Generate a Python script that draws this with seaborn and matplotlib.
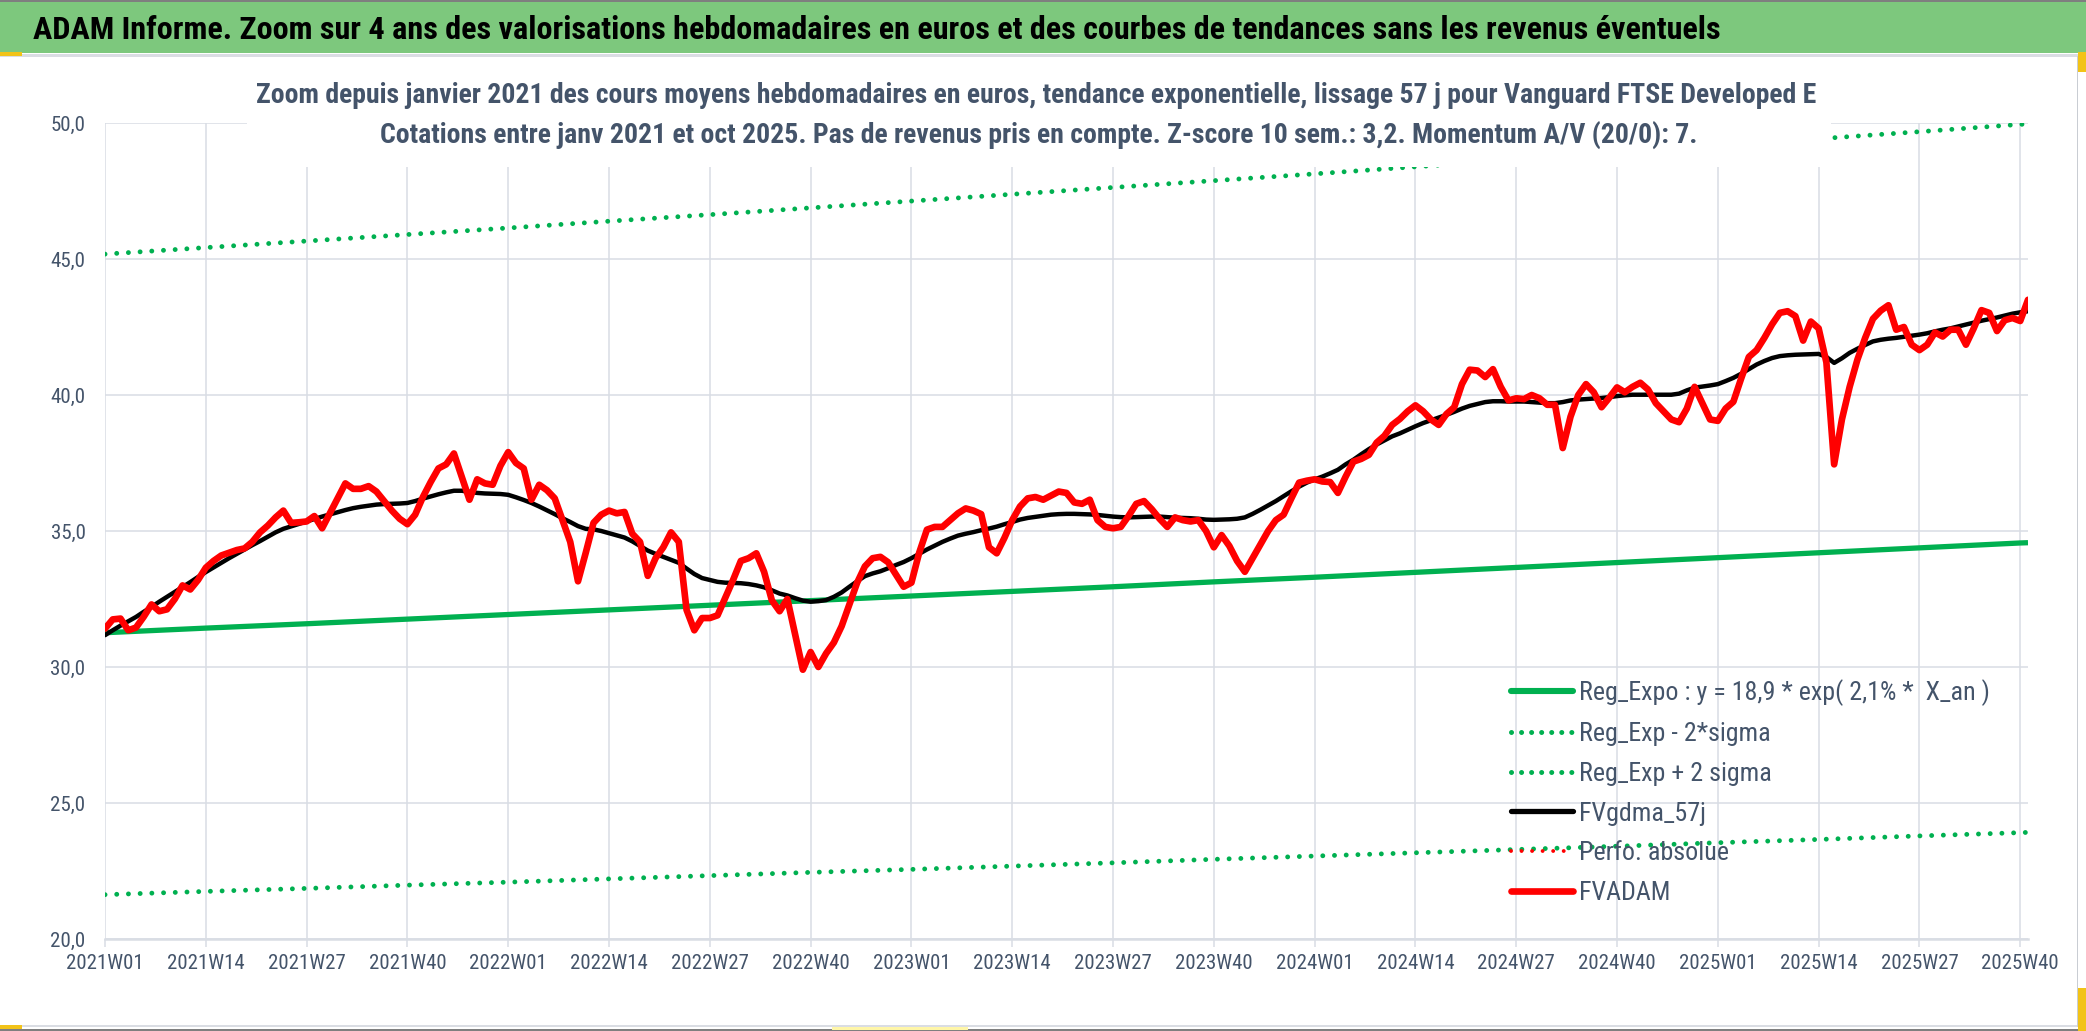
import numpy as np
import pandas as pd
import matplotlib
matplotlib.use("Agg")
import matplotlib.pyplot as plt
import seaborn as sns
from matplotlib import font_manager as fm
from matplotlib.font_manager import FontProperties
from matplotlib.textpath import TextPath
from matplotlib.lines import Line2D
from matplotlib.patches import Rectangle

# ---------------------------------------------------------------- data
title = ("ADAM Informe. Zoom sur 4 ans des valorisations hebdomadaires en euros "
         "et des courbes de tendances sans les revenus éventuels")
subtitle1 = ("Zoom depuis janvier 2021 des cours moyens hebdomadaires en euros, tendance "
             "exponentielle, lissage 57 j pour Vanguard FTSE Developed E")
subtitle2 = ("Cotations entre janv 2021 et oct 2025. Pas de revenus pris en compte. "
             "Z-score 10 sem.: 3,2. Momentum A/V (20/0): 7.")

series_labels = ["Reg_Expo : y = 18,9 * exp( 2,1% *  X_an )", "Reg_Exp - 2*sigma",
                 "Reg_Exp + 2 sigma", "FVgdma_57j", "Perfo. absolue", "FVADAM"]

tick_labels = ["2021W01", "2021W14", "2021W27", "2021W40", "2022W01", "2022W14",
               "2022W27", "2022W40", "2023W01", "2023W14", "2023W27", "2023W40",
               "2024W01", "2024W14", "2024W27", "2024W40", "2025W01", "2025W14",
               "2025W27", "2025W40"]
tick_weeks = [0, 13, 26, 39, 52, 65, 78, 91, 104, 117, 130, 143, 156, 169, 182,
              195, 208, 221, 234, 247]
y_ticks = [20, 25, 30, 35, 40, 45, 50]
y_tick_labels = ["20,0", "25,0", "30,0", "35,0", "40,0", "45,0", "50,0"]

# exponential trend and its bands, read at each labelled week + last week
trend_weeks = tick_weeks + [248]
reg_expo = [31.26, 31.43, 31.59, 31.76, 31.93, 32.10, 32.27, 32.44, 32.61, 32.78,
            32.95, 33.13, 33.30, 33.48, 33.66, 33.84, 34.02, 34.20, 34.38, 34.56, 34.57]
reg_minus = [21.63, 21.75, 21.86, 21.98, 22.09, 22.21, 22.33, 22.45, 22.56, 22.68,
             22.80, 22.93, 23.05, 23.17, 23.29, 23.41, 23.54, 23.66, 23.79, 23.91, 23.92]
reg_plus = [45.18, 45.42, 45.66, 45.90, 46.14, 46.39, 46.63, 46.88, 47.13, 47.38,
            47.63, 47.88, 48.13, 48.39, 48.65, 48.90, 49.16, 49.42, 49.68, 49.95, 49.96]

# weekly smoothed curve (FVgdma_57j)
fvgdma_2021 = [31.17, 31.35, 31.52, 31.68, 31.84, 32.03, 32.21, 32.40, 32.58, 32.76,
               32.94, 33.12, 33.31, 33.49, 33.66, 33.83, 34.00, 34.16, 34.32, 34.48,
               34.63, 34.79, 34.95, 35.08, 35.17, 35.26, 35.35, 35.44, 35.53, 35.61,
               35.69, 35.77, 35.84, 35.89, 35.93, 35.97, 35.99, 36.00, 36.01, 36.03,
               36.10, 36.19, 36.27, 36.35, 36.42, 36.48, 36.48, 36.44, 36.40, 36.38,
               36.37, 36.36]
fvgdma_2022 = [36.33, 36.24, 36.14, 36.03, 35.90, 35.76, 35.62, 35.47, 35.33, 35.18,
               35.08, 35.06, 35.00, 34.92, 34.84, 34.76, 34.62, 34.45, 34.28, 34.16,
               34.05, 33.94, 33.83, 33.62, 33.42, 33.27, 33.20, 33.13, 33.10, 33.09,
               33.08, 33.05, 33.00, 32.93, 32.82, 32.70, 32.63, 32.53, 32.44, 32.40,
               32.42, 32.46, 32.58, 32.74, 32.95, 33.15, 33.34, 33.44, 33.52, 33.63,
               33.75, 33.86]
fvgdma_2023 = [34.00, 34.16, 34.32, 34.46, 34.60, 34.72, 34.83, 34.90, 34.96, 35.03,
               35.09, 35.16, 35.25, 35.33, 35.42, 35.48, 35.52, 35.56, 35.60, 35.62,
               35.63, 35.63, 35.62, 35.61, 35.59, 35.56, 35.53, 35.51, 35.50, 35.51,
               35.52, 35.53, 35.53, 35.51, 35.49, 35.48, 35.47, 35.45, 35.42, 35.41,
               35.42, 35.43, 35.45, 35.50, 35.63, 35.78, 35.94, 36.10, 36.28, 36.46,
               36.63, 36.78]
fvgdma_2024 = [36.90, 37.00, 37.12, 37.25, 37.45, 37.62, 37.82, 38.01, 38.18, 38.33,
               38.48, 38.59, 38.72, 38.85, 38.97, 39.07, 39.17, 39.27, 39.38, 39.50,
               39.60, 39.67, 39.74, 39.77, 39.77, 39.76, 39.76, 39.76, 39.74, 39.72,
               39.70, 39.70, 39.74, 39.80, 39.83, 39.85, 39.87, 39.89, 39.92, 39.96,
               39.99, 40.01, 40.01, 40.01, 40.01, 40.01, 40.01, 40.05, 40.17, 40.27,
               40.31, 40.35]
fvgdma_2025 = [40.40, 40.51, 40.63, 40.78, 40.95, 41.12, 41.25, 41.36, 41.43, 41.46,
               41.48, 41.49, 41.50, 41.51, 41.40, 41.18, 41.35, 41.55, 41.70, 41.84,
               41.97, 42.03, 42.07, 42.10, 42.14, 42.18, 42.22, 42.27, 42.34, 42.40,
               42.45, 42.52, 42.59, 42.66, 42.73, 42.79, 42.85, 42.92, 42.99, 43.04,
               43.08]

# weekly average price (FVADAM)
fvadam_2021 = [31.41, 31.75, 31.78, 31.35, 31.45, 31.85, 32.30, 32.05, 32.12, 32.50,
               33.00, 32.85, 33.20, 33.65, 33.90, 34.10, 34.20, 34.30, 34.36, 34.60,
               34.95, 35.20, 35.50, 35.75, 35.30, 35.32, 35.35, 35.55, 35.10, 35.65,
               36.20, 36.75, 36.55, 36.55, 36.65, 36.45, 36.10, 35.75, 35.45, 35.25,
               35.60, 36.25, 36.80, 37.30, 37.45, 37.85, 37.00, 36.15, 36.90, 36.75,
               36.70, 37.40]
fvadam_2022 = [37.90, 37.50, 37.30, 36.15, 36.70, 36.50, 36.20, 35.40, 34.60, 33.15,
               34.20, 35.30, 35.60, 35.75, 35.65, 35.70, 34.90, 34.60, 33.35, 34.00,
               34.40, 34.95, 34.60, 32.10, 31.35, 31.80, 31.80, 31.90, 32.55, 33.20,
               33.90, 34.00, 34.18, 33.50, 32.45, 32.05, 32.50, 31.20, 29.90, 30.55,
               30.00, 30.50, 30.90, 31.50, 32.30, 33.10, 33.70, 34.00, 34.05, 33.85,
               33.40, 32.95]
fvadam_2023 = [33.10, 34.20, 35.05, 35.15, 35.15, 35.40, 35.65, 35.83, 35.75, 35.62,
               34.40, 34.18, 34.75, 35.40, 35.90, 36.20, 36.25, 36.15, 36.30, 36.45,
               36.40, 36.05, 36.00, 36.15, 35.40, 35.15, 35.10, 35.15, 35.55, 36.00,
               36.10, 35.80, 35.45, 35.15, 35.50, 35.40, 35.35, 35.40, 35.00, 34.40,
               34.85, 34.45, 33.90, 33.50, 34.00, 34.50, 35.00, 35.40, 35.60, 36.20,
               36.78, 36.85]
fvadam_2024 = [36.90, 36.82, 36.80, 36.40, 37.00, 37.55, 37.65, 37.80, 38.25, 38.50,
               38.90, 39.12, 39.40, 39.62, 39.40, 39.10, 38.90, 39.30, 39.55, 40.40,
               40.93, 40.90, 40.66, 40.95, 40.30, 39.80, 39.88, 39.85, 40.00, 39.88,
               39.64, 39.64, 38.05, 39.20, 40.00, 40.40, 40.10, 39.55, 39.90, 40.28,
               40.10, 40.30, 40.45, 40.20, 39.70, 39.40, 39.10, 39.00, 39.50, 40.30,
               39.70, 39.10]
fvadam_2025 = [39.05, 39.50, 39.75, 40.60, 41.40, 41.65, 42.10, 42.60, 43.02, 43.08,
               42.90, 42.00, 42.70, 42.45, 41.20, 37.45, 39.10, 40.30, 41.30, 42.10,
               42.80, 43.10, 43.30, 42.40, 42.50, 41.85, 41.65, 41.85, 42.30, 42.15,
               42.40, 42.40, 41.85, 42.45, 43.12, 43.02, 42.35, 42.75, 42.83, 42.72,
               43.50]

perfo_absolue = []  # series present in the legend only (no visible points)

fvgdma = fvgdma_2021 + fvgdma_2022 + fvgdma_2023 + fvgdma_2024 + fvgdma_2025
fvadam = fvadam_2021 + fvadam_2022 + fvadam_2023 + fvadam_2024 + fvadam_2025

weekly = pd.DataFrame({"week": np.arange(len(fvadam)), "FVADAM": fvadam,
                       "FVgdma": fvgdma[:len(fvadam)]})
trend = pd.DataFrame({"week": trend_weeks, "expo": reg_expo,
                      "minus": reg_minus, "plus": reg_plus})

# ---------------------------------------------------------------- font choice
sns.set_theme(style="white")

BASES = ["DejaVu Sans", "Liberation Sans", "Noto Sans", "Roboto", "Open Sans", "Lato", "Inter"]
WIDTH_WORDS = {"Condensed", "SemiCondensed", "ExtraCondensed", "Narrow", "Semi", "Extra",
               "Semi-Condensed", "Extra-Condensed"}


def _wt(w):
    if isinstance(w, str):
        return {"normal": 400, "regular": 400, "book": 400, "bold": 700}.get(w.lower(), 400)
    return int(w)


regular, bold_ok = {}, set()
for f in fm.fontManager.ttflist:
    ok = False
    for b in BASES:
        rest = f.name[len(b):].split() if f.name.startswith(b) else None
        if rest is not None and (f.name == b or (f.name[len(b):len(b) + 1] == " "
                                                 and all(w in WIDTH_WORDS for w in rest))):
            ok = True
    if not ok or f.style != "normal":
        continue
    key = (f.name, f.stretch)
    if _wt(f.weight) == 400:
        regular.setdefault(key, f.fname)
    elif _wt(f.weight) >= 600:
        bold_ok.add(key)

TARGET = 23.0  # width of the first legend label / its cap height, read on the picture
best, best_score = ("DejaVu Sans", "normal"), 1e9
for key, path in regular.items():
    if key not in bold_ok:
        continue
    try:
        fp = FontProperties(fname=path, size=100)
        w = TextPath((0, 0), series_labels[0], prop=fp).get_extents().width
        h = TextPath((0, 0), "H", prop=fp).get_extents().height
    except Exception:
        continue
    score = abs(np.log((w / h) / TARGET))
    if score < best_score:
        best, best_score = key, score

plt.rcParams["font.family"] = [best[0], "DejaVu Sans"]
plt.rcParams["font.stretch"] = best[1]

W, H = 2086, 1031
fig = plt.figure(figsize=(W / 100, H / 100), dpi=100)
fig.patch.set_facecolor("white")


def fx(px):
    return px / W


def fy(py):
    return 1 - py / H


renderer = fig.canvas.get_renderer()


def size_for(text, target_px, weight="normal", base=20.0):
    size = base
    for _ in range(3):
        t = fig.text(0, 0, text, fontsize=size, fontweight=weight)
        w = t.get_window_extent(renderer=renderer).width
        t.remove()
        size = size * target_px / w
    return size


TXT = "#44546A"
GRID = "#D9DDE4"
GREEN = "#00B050"
RED = "#FF0000"

# ---------------------------------------------------------------- axes
ax = fig.add_axes([fx(105), fy(939), (2028 - 105) / W, (939 - 123) / H])
ax.set_facecolor("white")

dot_green = (0, (0.01, 2.4))
sns.lineplot(data=trend, x="week", y="expo", ax=ax, color=GREEN, linewidth=3.8,
             legend=False, estimator=None, sort=False, solid_capstyle="butt")
sns.lineplot(data=trend, x="week", y="minus", ax=ax, color=GREEN, linewidth=3.5,
             linestyle=dot_green, dash_capstyle="round", legend=False,
             estimator=None, sort=False)
sns.lineplot(data=trend, x="week", y="plus", ax=ax, color=GREEN, linewidth=3.5,
             linestyle=dot_green, dash_capstyle="round", legend=False,
             estimator=None, sort=False)
sns.lineplot(data=weekly, x="week", y="FVgdma", ax=ax, color="black", linewidth=3.2,
             legend=False, estimator=None, sort=False, solid_joinstyle="round")
sns.lineplot(data=weekly, x="week", y="FVADAM", ax=ax, color=RED, linewidth=4.8,
             legend=False, estimator=None, sort=False, solid_joinstyle="round")

ax.set_xlim(0, len(fvadam) - 1)
ax.set_ylim(20, 50)
ax.set_xlabel("")
ax.set_ylabel("")

fs_x = size_for("2021W01", 78)
fs_y = size_for("50,0", 35)
ax.set_xticks(tick_weeks)
ax.set_xticklabels(tick_labels, fontsize=fs_x, color=TXT)
ax.set_yticks(y_ticks)
ax.set_yticklabels(y_tick_labels, fontsize=fs_y, color=TXT)
ax.tick_params(axis="x", length=6, width=1.1, color=GRID, pad=5, direction="out",
               bottom=True)
ax.tick_params(axis="y", length=0, pad=14)
ax.grid(True, color=GRID, linewidth=1.1)
ax.set_axisbelow(True)
for s in ["left", "right", "top"]:
    ax.spines[s].set_visible(False)
ax.spines["bottom"].set_color(GRID)
ax.spines["bottom"].set_linewidth(1.8)

# legend
fs_leg = size_for(series_labels[0], 408)
fs_leg_px = fs_leg * 100 / 72
handles = [
    Line2D([], [], color=GREEN, linewidth=4.4, solid_capstyle="round"),
    Line2D([], [], color=GREEN, linewidth=3.6, linestyle=(0, (0.01, 2.0)), dash_capstyle="round"),
    Line2D([], [], color=GREEN, linewidth=3.6, linestyle=(0, (0.01, 2.0)), dash_capstyle="round"),
    Line2D([], [], color="black", linewidth=3.8, solid_capstyle="round"),
    Line2D([], [], color=RED, linewidth=2.8, linestyle=(0, (0.01, 2.7)), dash_capstyle="round"),
    Line2D([], [], color=RED, linewidth=4.8, solid_capstyle="round"),
]


def make_legend(ls, top_px):
    lg = ax.legend(handles, series_labels, loc="upper left",
                   bbox_to_anchor=(fx(1511), fy(top_px)), bbox_transform=fig.transFigure,
                   frameon=False, fontsize=fs_leg, borderpad=0, borderaxespad=0,
                   handlelength=62 / fs_leg_px, handletextpad=6 / fs_leg_px,
                   labelspacing=ls)
    for t in lg.get_texts():
        t.set_color(TXT)
    return lg


def row_centres(lg):
    fig.canvas.draw()
    r = fig.canvas.get_renderer()
    return [H - 0.5 * (b.y0 + b.y1) for b in
            (t.get_window_extent(renderer=r) for t in lg.get_texts())]


ls = 0.5
top = 679.0
leg = make_legend(ls, top)
c = row_centres(leg)
pitch = (c[-1] - c[0]) / (len(c) - 1)
ls = max(0.0, ls + (40 - pitch) / fs_leg_px)
leg.remove()
leg = make_legend(ls, top)
c = row_centres(leg)
top = top + (693 - c[0])
leg.remove()
leg = make_legend(ls, top)

# ---------------------------------------------------------------- frame & titles
fig.patches.append(Rectangle((0, fy(53)), 1, 53 / H, transform=fig.transFigure,
                             facecolor="#7DC87D", edgecolor="none", zorder=1))
fig.patches.append(Rectangle((0, fy(2)), 1, 2 / H, transform=fig.transFigure,
                             facecolor="#7F7F7F", edgecolor="none", zorder=1))
fig.patches.append(Rectangle((0, fy(56.5)), fx(2078), 2.2 / H, transform=fig.transFigure,
                             facecolor="#DADDE3", edgecolor="none", zorder=1))
fig.patches.append(Rectangle((0, fy(1027)), fx(2078), 2.5 / H, transform=fig.transFigure,
                             facecolor="#DADDE3", edgecolor="none", zorder=1))
fig.patches.append(Rectangle((0, 0), 1, 2.5 / H, transform=fig.transFigure,
                             facecolor="#7F7F7F", edgecolor="none", zorder=1))
fig.patches.append(Rectangle((fx(2076.5), fy(1027)), 1.8 / W, (1027 - 56) / H,
                             transform=fig.transFigure, facecolor="#C9CDD3",
                             edgecolor="none", zorder=1))
# yellow selection marks
for (x0, y0, x1, y1, col) in [(0, 52, 22, 55.5, "#F2C318"), (2078, 52, 2086, 72, "#F2C318"),
                              (2078, 988, 2086, 1031, "#F2C318"), (0, 1025, 22, 1029, "#F2C318"),
                              (832, 1027, 968, 1030, "#FFF6A8")]:
    fig.patches.append(Rectangle((fx(x0), fy(y1)), (x1 - x0) / W, (y1 - y0) / H,
                                 transform=fig.transFigure, facecolor=col,
                                 edgecolor="none", zorder=1))
# white box behind the chart title
fig.patches.append(Rectangle((fx(247), fy(167)), (1831 - 247) / W, (167 - 68) / H,
                             transform=fig.transFigure, facecolor="white",
                             edgecolor="none", zorder=2))

fs_title = size_for(title, 1695, "bold")
fig.text(fx(33), fy(39), title, fontsize=fs_title, fontweight="bold", color="black",
         ha="left", va="baseline", zorder=5)

fs_sub = (size_for(subtitle1, 1559, "bold") + size_for(subtitle2, 1318, "bold")) / 2
fig.text(fx(1036), fy(103), subtitle1, fontsize=fs_sub, fontweight="bold", color=TXT,
         ha="center", va="baseline", zorder=5)
fig.text(fx(1039), fy(143), subtitle2, fontsize=fs_sub, fontweight="bold", color=TXT,
         ha="center", va="baseline", zorder=5)

fig.savefig("out.png", dpi=100)
